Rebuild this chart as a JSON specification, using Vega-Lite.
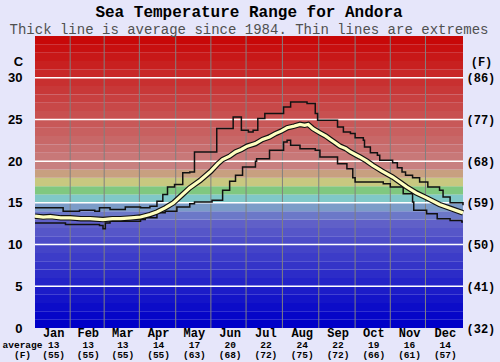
{
  "$schema": "https://vega.github.io/schema/vega-lite/v6.json",
  "width": 428,
  "height": 292,
  "autosize": {"type": "none"},
  "padding": {"left": 35, "top": 36, "right": 37, "bottom": 34},
  "background": "#e6e6fa",
  "config": {"view": {"stroke": null}},
  "title": {
    "text": "Sea Temperature Range for Andora",
    "subtitle": "Thick line is average since 1984. Thin lines are extremes",
    "font": "Liberation Mono",
    "fontSize": 16,
    "fontWeight": "bold",
    "color": "#000000",
    "subtitleFont": "Liberation Mono",
    "subtitleFontSize": 14,
    "subtitleColor": "#505050",
    "subtitlePadding": 3,
    "offset": -1,
    "anchor": "middle",
    "frame": "group"
  },
  "datasets": {
    "bands": [
      {"t0": 0, "t1": 1}, {"t0": 1, "t1": 2}, {"t0": 2, "t1": 3}, {"t0": 3, "t1": 4}, {"t0": 4, "t1": 5},
      {"t0": 5, "t1": 6}, {"t0": 6, "t1": 7}, {"t0": 7, "t1": 8}, {"t0": 8, "t1": 9}, {"t0": 9, "t1": 10},
      {"t0": 10, "t1": 11}, {"t0": 11, "t1": 12}, {"t0": 12, "t1": 13}, {"t0": 13, "t1": 14}, {"t0": 14, "t1": 15},
      {"t0": 15, "t1": 16}, {"t0": 16, "t1": 17}, {"t0": 17, "t1": 18}, {"t0": 18, "t1": 19}, {"t0": 19, "t1": 20},
      {"t0": 20, "t1": 21}, {"t0": 21, "t1": 22}, {"t0": 22, "t1": 23}, {"t0": 23, "t1": 24}, {"t0": 24, "t1": 25},
      {"t0": 25, "t1": 26}, {"t0": 26, "t1": 27}, {"t0": 27, "t1": 28}, {"t0": 28, "t1": 29}, {"t0": 29, "t1": 30},
      {"t0": 30, "t1": 31}, {"t0": 31, "t1": 32}, {"t0": 32, "t1": 33}, {"t0": 33, "t1": 34}, {"t0": 34, "t1": 35}
    ],
    "months": [
      {"b": 30}, {"b": 59}, {"b": 89}, {"b": 120}, {"b": 150}, {"b": 180},
      {"b": 211}, {"b": 242}, {"b": 273}, {"b": 303}, {"b": 333}
    ],
    "grid": [{"g": 5}, {"g": 10}, {"g": 15}, {"g": 20}, {"g": 25}, {"g": 30}],
    "avg": [
      {"d": 0, "t": 13.4}, {"d": 7, "t": 13.3}, {"d": 13, "t": 13.35}, {"d": 22, "t": 13.2}, {"d": 30, "t": 13.2}, {"d": 39, "t": 13.1}, {"d": 47, "t": 13.1}, {"d": 58, "t": 13.0},
      {"d": 66, "t": 13.1}, {"d": 73, "t": 13.1}, {"d": 82, "t": 13.2}, {"d": 90, "t": 13.3}, {"d": 98, "t": 13.6}, {"d": 104, "t": 13.9}, {"d": 111, "t": 14.4},
      {"d": 118, "t": 15.0}, {"d": 125, "t": 15.9}, {"d": 132, "t": 16.8}, {"d": 141, "t": 17.7}, {"d": 150, "t": 18.8},
      {"d": 156, "t": 19.7}, {"d": 160, "t": 20.2}, {"d": 166, "t": 20.6}, {"d": 171, "t": 21.1}, {"d": 176, "t": 21.4}, {"d": 181, "t": 21.8}, {"d": 188, "t": 22.1}, {"d": 194, "t": 22.6},
      {"d": 200, "t": 22.9}, {"d": 205, "t": 23.3}, {"d": 210, "t": 23.6}, {"d": 215, "t": 24.0}, {"d": 221, "t": 24.2}, {"d": 226, "t": 24.4}, {"d": 230, "t": 24.3}, {"d": 233, "t": 24.4}, {"d": 237, "t": 23.9},
      {"d": 243, "t": 23.4}, {"d": 248, "t": 23.0}, {"d": 252, "t": 22.6}, {"d": 256, "t": 22.2}, {"d": 260, "t": 21.8}, {"d": 265, "t": 21.5}, {"d": 269, "t": 21.1}, {"d": 277, "t": 20.5}, {"d": 283, "t": 20.0},
      {"d": 288, "t": 19.5}, {"d": 296, "t": 18.8}, {"d": 305, "t": 18.1}, {"d": 311, "t": 17.5}, {"d": 317, "t": 16.9}, {"d": 325, "t": 16.2}, {"d": 334, "t": 15.6}, {"d": 345, "t": 14.8}, {"d": 355, "t": 14.3},
      {"d": 365, "t": 13.8}
    ],
    "max": [
      {"d": 0, "t": 14.4}, {"d": 24, "t": 14.0}, {"d": 38, "t": 14.1}, {"d": 51, "t": 14.0}, {"d": 55, "t": 14.4},
      {"d": 64, "t": 14.2}, {"d": 77, "t": 14.5}, {"d": 90, "t": 14.4}, {"d": 98, "t": 14.6}, {"d": 104, "t": 15.2},
      {"d": 109, "t": 16.0}, {"d": 113, "t": 16.9}, {"d": 119, "t": 17.2}, {"d": 126, "t": 18.6}, {"d": 132, "t": 18.7},
      {"d": 136, "t": 21.1}, {"d": 155, "t": 23.9}, {"d": 169, "t": 25.3}, {"d": 176, "t": 23.7}, {"d": 182, "t": 23.5},
      {"d": 186, "t": 23.7}, {"d": 190, "t": 25.1}, {"d": 196, "t": 25.7}, {"d": 212, "t": 26.5}, {"d": 218, "t": 27.1},
      {"d": 232, "t": 26.9}, {"d": 239, "t": 25.7}, {"d": 241, "t": 24.9}, {"d": 258, "t": 24.1}, {"d": 263, "t": 23.5},
      {"d": 269, "t": 23.3}, {"d": 273, "t": 22.8}, {"d": 280, "t": 22.5}, {"d": 281, "t": 21.7}, {"d": 286, "t": 21.0},
      {"d": 292, "t": 20.7}, {"d": 294, "t": 20.1}, {"d": 305, "t": 19.8}, {"d": 309, "t": 19.2}, {"d": 313, "t": 18.7},
      {"d": 316, "t": 18.3}, {"d": 322, "t": 18.0}, {"d": 328, "t": 17.5}, {"d": 335, "t": 16.9}, {"d": 345, "t": 16.5},
      {"d": 348, "t": 15.7}, {"d": 354, "t": 15.0}, {"d": 365, "t": 14.7}
    ],
    "min": [
      {"d": 0, "t": 12.6}, {"d": 21, "t": 12.6}, {"d": 26, "t": 12.4}, {"d": 47, "t": 12.4}, {"d": 55, "t": 12.3},
      {"d": 58, "t": 11.9}, {"d": 60, "t": 12.6}, {"d": 64, "t": 12.8}, {"d": 90, "t": 13.0}, {"d": 94, "t": 13.2},
      {"d": 104, "t": 13.8}, {"d": 111, "t": 14.0}, {"d": 121, "t": 14.5}, {"d": 132, "t": 14.9}, {"d": 136, "t": 15.1},
      {"d": 151, "t": 15.3}, {"d": 160, "t": 16.5}, {"d": 166, "t": 17.6}, {"d": 171, "t": 18.3}, {"d": 177, "t": 19.3},
      {"d": 188, "t": 20.0}, {"d": 189, "t": 20.3}, {"d": 200, "t": 21.3}, {"d": 212, "t": 22.3}, {"d": 215, "t": 22.5},
      {"d": 218, "t": 21.9}, {"d": 226, "t": 21.5}, {"d": 239, "t": 21.3}, {"d": 243, "t": 20.5}, {"d": 258, "t": 19.7},
      {"d": 266, "t": 19.1}, {"d": 271, "t": 18.0}, {"d": 273, "t": 17.5}, {"d": 297, "t": 17.3}, {"d": 303, "t": 16.9},
      {"d": 314, "t": 16.1}, {"d": 322, "t": 15.1}, {"d": 323, "t": 14.1}, {"d": 334, "t": 13.7}, {"d": 343, "t": 13.1},
      {"d": 354, "t": 12.9}, {"d": 364, "t": 12.7}, {"d": 365, "t": 12.7}
    ]
  },
  "resolve": {"axis": {"x": "independent", "y": "independent"}},
  "layer": [
    {
      "data": {"name": "bands"},
      "mark": {"type": "rect"},
      "encoding": {
        "y": {"field": "t0", "type": "quantitative", "scale": {"domain": [0, 35], "nice": false}, "axis": null},
        "y2": {"field": "t1"},
        "color": {
          "field": "t0", "type": "ordinal", "legend": null,
          "scale": {"range": ["#0000c8", "#0606c8", "#0c0cc8", "#1414c8", "#1c1cc8", "#2424c8", "#2c2cc8", "#3434c8", "#3c3cc8", "#4444c8", "#4c4cc8", "#5656c8", "#6060c8", "#6c78c8", "#7c9cc8", "#80c8c8", "#80c880", "#c8c880", "#c8a080", "#c88080", "#c87878", "#c87070", "#c86868", "#c86060", "#c85858", "#c85050", "#c84848", "#c84040", "#c83838", "#c83030", "#c82828", "#c82020", "#c81818", "#c81010", "#c80808"]}
        }
      }
    },
    {
      "data": {"name": "months"},
      "mark": {"type": "rule", "color": "#808080", "strokeWidth": 1},
      "encoding": {
        "x": {
          "field": "b", "type": "quantitative", "scale": {"domain": [0, 365], "nice": false},
          "axis": {
            "orient": "bottom", "title": null, "ticks": false, "domain": false, "grid": false,
            "values": [15.5, 45, 74.5, 105, 135.5, 166, 196.5, 227.5, 258, 288.5, 319, 349.5],
            "labelExpr": "['Jan','Feb','Mar','Apr','May','Jun','Jul','Aug','Sep','Oct','Nov','Dec'][floor(datum.value/30.5)]",
            "labelFont": "Liberation Mono", "labelFontWeight": "bold", "labelFontSize": 12,
            "labelColor": "#000000", "labelPadding": -1, "labelFlush": false, "labelOverlap": false
          }
        }
      }
    },
    {
      "data": {"name": "grid"},
      "mark": {"type": "rule", "color": "#ffffff", "strokeWidth": 1.5},
      "encoding": {
        "y": {
          "field": "g", "type": "quantitative", "scale": {"domain": [0, 35], "nice": false},
          "axis": {
            "orient": "left", "values": [0, 5, 10, 15, 20, 25, 30], "ticks": false, "domain": false, "grid": false,
            "labelFont": "Liberation Sans", "labelFontSize": 13, "labelFontWeight": "bold", "labelColor": "#000000",
            "labelPadding": 13, "labelFlush": false, "labelOverlap": false,
            "title": "C", "titleAngle": 0, "titleX": -17, "titleY": 25, "titleAlign": "center", "titleBaseline": "middle",
            "titleFont": "Liberation Sans", "titleFontSize": 13, "titleFontWeight": "bold", "titleColor": "#000000"
          }
        }
      }
    },
    {
      "data": {"name": "min"},
      "mark": {"type": "line", "interpolate": "step-after", "color": "#111111", "strokeWidth": 1.5},
      "encoding": {
        "x": {"field": "d", "type": "quantitative", "scale": {"domain": [0, 365], "nice": false}, "axis": null},
        "y": {"field": "t", "type": "quantitative", "scale": {"domain": [0, 35], "nice": false}, "axis": null}
      }
    },
    {
      "data": {"name": "max"},
      "mark": {"type": "line", "interpolate": "step-after", "color": "#111111", "strokeWidth": 1.5},
      "encoding": {
        "x": {"field": "d", "type": "quantitative", "scale": {"domain": [0, 365], "nice": false}, "axis": null},
        "y": {"field": "t", "type": "quantitative", "scale": {"domain": [0, 35], "nice": false}, "axis": null}
      }
    },
    {
      "data": {"name": "avg"},
      "mark": {"type": "line", "color": "#111111", "strokeWidth": 5.5},
      "encoding": {
        "x": {
          "field": "d", "type": "quantitative", "scale": {"domain": [0, 365], "nice": false},
          "axis": {
            "orient": "bottom", "offset": 11, "ticks": false, "domain": false, "grid": false,
            "values": [15.5, 45, 74.5, 105, 135.5, 166, 196.5, 227.5, 258, 288.5, 319, 349.5],
            "labelExpr": "[['13','(55)'],['13','(55)'],['13','(55)'],['14','(55)'],['17','(63)'],['20','(68)'],['22','(72)'],['24','(75)'],['22','(72)'],['19','(66)'],['16','(61)'],['14','(57)']][floor(datum.value/30.5)]",
            "labelFont": "Liberation Mono", "labelFontWeight": "bold", "labelFontSize": 9.5, "labelLineHeight": 10,
            "labelColor": "#000000", "labelPadding": 0, "labelFlush": false, "labelOverlap": false,
            "title": ["average", "(F)"], "titleX": -13, "titleY": 0, "titleAlign": "center", "titleBaseline": "top",
            "titleFont": "Liberation Mono", "titleFontWeight": "bold", "titleFontSize": 9.5, "titleLineHeight": 10,
            "titleColor": "#000000"
          }
        },
        "y": {
          "field": "t", "type": "quantitative", "scale": {"domain": [0, 35], "nice": false},
          "axis": {
            "orient": "right", "values": [0, 5, 10, 15, 20, 25, 30], "ticks": false, "domain": false, "grid": false,
            "labelExpr": "'(' + format(datum.value * 9 / 5 + 32, 'd') + ')'",
            "labelFont": "Liberation Mono", "labelFontWeight": "bold", "labelFontSize": 12, "labelColor": "#000000",
            "labelPadding": 3, "labelFlush": false, "labelOverlap": false,
            "title": "(F)", "titleAngle": 0, "titleX": 18, "titleY": 25, "titleAlign": "center", "titleBaseline": "middle",
            "titleFont": "Liberation Mono", "titleFontSize": 12, "titleFontWeight": "bold", "titleColor": "#000000"
          }
        }
      }
    },
    {
      "data": {"name": "avg"},
      "mark": {"type": "line", "color": "#ffffc0", "strokeWidth": 3.2},
      "encoding": {
        "x": {"field": "d", "type": "quantitative", "scale": {"domain": [0, 365], "nice": false}, "axis": null},
        "y": {"field": "t", "type": "quantitative", "scale": {"domain": [0, 35], "nice": false}, "axis": null}
      }
    }
  ]
}
